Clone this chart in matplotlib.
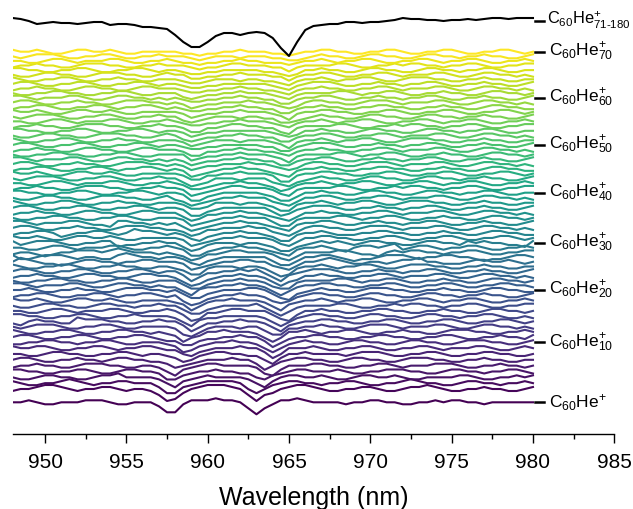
import numpy as np
import matplotlib.pyplot as plt

plt.rcParams['font.family'] = ['Liberation Sans', 'DejaVu Sans']
plt.rcParams['mathtext.fontset'] = 'custom'
plt.rcParams['mathtext.rm'] = 'Liberation Sans'
plt.rcParams['mathtext.it'] = 'Liberation Sans:italic'

# wavelength grid of the spectra (nm)
wavelength = np.arange(948.0, 980.01, 0.5)

# C60He+ (n = 71-180), absorption depth
black_depth = [18, 19, 21, 24, 23, 22, 23, 23, 24, 23, 22, 22, 25, 24, 24, 25,
               27, 27, 28, 29, 35, 42, 47, 47, 42, 36, 33, 33, 35, 33, 32, 33,
               38, 48, 56, 42, 30, 26, 25, 24, 24, 22, 22, 23, 22, 22, 21, 20,
               18, 19, 19, 20, 20, 21, 20, 20, 19, 20, 19, 18, 18, 19, 18, 18, 18]

# C60He_n+ n = 1..70, absorption depth per grid point (hex digits, 3 = baseline)
spectra = [
    "33234 43332 22344 | 33358 84222 12236 96422 12333 | 34332 23344 33232 23343 33333",
    "43321 12343 32234 | 33469 85321 11236 96532 11234 | 43322 34432 21234 43323 34432",
    "23443 32123 43322 | 33358 85432 22236 86432 23343 | 32234 43321 23344 32233 43323",
    "34432 23344 32213 | 33346 85432 33334 68532 23323 | 44322 33234 43333 22344 33232",
    "22334 43322 34432 | 23347 75433 23344 67543 22333 | 23443 32223 34432 23343 32234",
    "43323 34432 22334 | 43346 85432 23333 47853 33223 | 34433 22343 33222 34433 23343",
    "32234 43323 34322 | 33445 76543 33233 58643 22334 | 43223 34432 22334 43323 34433",
    "33443 22334 43322 | 34334 57643 22334 46853 32333 | 34322 23443 32234 43322 33443",
    "23322 34433 22343 | 32234 46754 33323 35863 33234 | 43322 34433 22343 33223 44323",
    "44332 23343 32234 | 43334 58754 33233 46864 32334 | 43223 34432 23344 32223 34432",
    "32234 43322 34433 | 22345 57754 43323 35864 33223 | 34433 22334 43322 34433 23342",
    "23443 32234 43322 | 33434 58653 32333 46863 32343 | 32234 43323 34432 22334 43323",
    "34322 23443 32234 | 43333 47864 33343 35774 43323 | 34432 22343 33223 44322 33434",
    "45323 34412 22334 | 43323 35864 43323 34685 43322 | 33443 32234 43322 34433 22343",
    "22334 43322 34433 | 23333 46854 43333 34686 43223 | 34432 23344 32233 43322 34434",
    "33443 22343 33223 | 44332 35874 43223 33578 53323 | 34433 22334 43323 34432 23343",
    "34432 23344 32233 | 43323 35775 43333 24686 43333 | 22344 33232 23343 32234 43322",
    "23323 44322 33234 | 43333 45864 33233 34685 43323 | 43322 34433 22343 32234 43323",
    "43322 34433 22343 | 32234 36875 43323 34676 43223 | 34432 23344 32233 43323 34432",
    "33234 43323 34432 | 22334 35775 43332 23578 54323 | 34432 22334 43323 34432 23344",
    "22343 33223 44322 | 33434 46854 43323 34686 43322 | 33443 32234 43322 34433 22334",
    "34433 22334 43322 | 34433 35775 43323 34677 43333 | 22343 32234 43323 34432 23343",
    "43323 34432 23344 | 32233 46875 43323 34686 53323 | 34433 22343 33223 44322 33434",
    "32234 43322 34433 | 22343 35864 43323 24685 43222 | 34433 23343 32234 43323 34432",
    "23443 32234 43323 | 34433 45774 33343 34687 43323 | 43322 34432 22334 43323 34433",
    "31234 45432 23343 | 32233 34765 43322 33567 53321 | 23443 34322 13344 43223 32343",
    "24432 22343 34421 | 23343 34675 43333 33577 53322 | 34544 32223 43322 33454 43223",
    "43345 43322 23212 | 33343 45764 43223 33467 53333 | 22344 53232 23343 32234 43322",
    "33443 22343 33223 | 44332 34775 43323 34567 43323 | 45322 32143 22343 32234 43323",
    "24322 23443 32254 | 43323 35764 33343 34577 54323 | 23432 23344 32233 42323 34452",
    "23323 44322 33234 | 43333 34765 43323 33467 53322 | 33443 32234 43322 34433 22343",
    "43322 35433 22343 | 12234 34675 43323 34577 43323 | 44433 22334 43323 34432 23344",
    "32234 43323 34432 | 22334 45764 43332 33567 53223 | 34432 22343 33223 44322 33434",
    "22343 33223 44522 | 33434 35765 43323 34567 43322 | 34433 23343 32234 43323 34432",
    "34433 22334 43322 | 34433 34765 43323 33577 43333 | 22343 32234 43323 34432 23343",
    "43323 34432 23344 | 32233 35764 43323 34567 53323 | 34433 22343 33223 44322 33434",
    "32234 43322 34433 | 22343 34775 43333 33576 43222 | 34433 23343 32234 43323 34432",
    "23443 32234 43323 | 34433 34665 33343 34577 43323 | 43322 34432 22334 43323 34433",
    "34432 23344 32223 | 34432 45765 43323 33567 53322 | 34433 22343 33223 44322 33434",
    "22334 43322 34433 | 22343 34775 43333 34577 53323 | 34432 23344 32233 43322 34433",
    "43323 34432 22334 | 43323 34765 43223 33467 43333 | 22344 33232 23343 32234 43322",
    "33443 22343 33223 | 44332 34665 43323 34576 43323 | 43322 34433 22343 32234 43323",
    "34322 23443 32234 | 43323 35765 33343 33567 54323 | 34432 23344 32233 43323 34432",
    "23323 44322 33234 | 43333 34664 43323 33477 43322 | 33443 32234 43322 34433 22343",
    "43322 34433 22343 | 32234 34765 43323 34567 43323 | 34433 22334 43323 34432 23344",
    "32234 43323 34432 | 22334 34654 43332 33456 53223 | 34432 22343 33223 44322 33434",
    "22343 33223 44322 | 33434 34654 43323 34466 43322 | 34433 23343 32234 43323 34432",
    "34433 22334 43322 | 34433 33654 43323 33457 43333 | 22343 32234 43323 34432 23343",
    "43323 34432 23344 | 32233 34664 43323 34456 43323 | 34433 22343 33223 44322 33434",
    "32234 43322 34433 | 22343 34554 43333 34466 43222 | 34433 23343 32234 43323 34432",
    "23443 32234 43323 | 34433 34654 33343 33457 43323 | 43322 34432 22334 43323 34433",
    "34432 23344 32223 | 34432 35654 43323 34466 43322 | 34433 22343 33223 44322 33434",
    "22334 43322 34433 | 22343 34654 43333 33456 53323 | 34432 23344 32233 43322 34433",
    "43323 34432 22334 | 43323 34664 43223 34467 43333 | 22344 33232 23343 32234 43322",
    "33443 22343 33223 | 44332 34554 43323 33456 43323 | 43322 34433 22343 32234 43323",
    "34322 23443 32234 | 43323 35654 33343 34466 54323 | 34432 23344 32233 43323 34432",
    "23323 44322 33234 | 43333 34654 43323 33457 43322 | 33443 32234 43322 34433 22343",
    "43322 34433 22343 | 32234 34554 43323 34466 43323 | 34433 22334 43323 34432 23344",
    "32234 43323 34432 | 22334 34654 43332 33456 53223 | 34432 22343 33223 44322 33434",
    "22343 33223 44322 | 33434 34554 43323 34466 43322 | 34433 23343 32234 43323 34432",
    "34433 22334 43322 | 34433 35654 43323 33456 43333 | 22343 32234 43323 34432 23343",
    "43323 34432 23344 | 32233 34554 43323 34456 43323 | 34433 22343 33223 44322 33434",
    "32234 43322 34433 | 22343 34554 43333 33456 43222 | 34433 23343 32234 43323 34432",
    "23443 32234 43323 | 34433 34554 33343 34456 43323 | 43322 34432 22334 43323 34433",
    "34432 23344 32223 | 34432 33554 43323 33446 43322 | 34433 22343 33223 44322 33434",
    "22334 43322 34433 | 22343 34554 43333 34456 53323 | 34432 23344 32233 43322 34433",
    "43323 34432 22334 | 43323 33454 43223 33446 43333 | 22344 33232 23343 32234 43322",
    "33443 22343 33223 | 44332 34454 43323 34445 43323 | 43322 34433 22343 32234 43323",
    "34322 23443 32234 | 43323 33454 33343 33445 54323 | 34432 23344 32233 43323 34432",
    "23323 44322 33234 | 43333 34454 43323 33445 43322 | 33443 32234 43322 34433 22343",
]
depth_unit = 2.0   # one hex step of the strings above

# labelled traces and where they sit in the stack
label_n = [1, 10, 20, 30, 40, 50, 60, 70]
label_text = [r'C$_{60}$He$^{+}$'] + [r'C$_{60}$He$^{+}_{%d}$' % n for n in label_n[1:]]
offset_n = [1, 2, 10, 20, 30, 40, 50, 60, 70]
offset_px = [402.3, 389, 342.3, 290, 243, 192.7, 145, 97.7, 51.7]
black_offset = 20.7

fig = plt.figure(figsize=(6.33, 5.09), dpi=100)
ax = fig.add_axes([12.5 / 633, 75 / 509, (614.3 - 12.5) / 633, 434 / 509])

cmap = plt.get_cmap('viridis')
n_all = np.arange(1, len(spectra) + 1)
base = np.interp(n_all, offset_n, offset_px)

for idx, s in enumerate(spectra):
    digits = s.replace(' ', '').replace('|', '')
    vals = np.array([int(c, 16) for c in digits], dtype=float)
    y = -(base[idx] + (vals - 3) * depth_unit)
    ax.plot(wavelength[:len(y)], y, color=cmap(idx / (len(spectra) - 1)), lw=1.5,
            solid_joinstyle='round')

ax.plot(wavelength, -np.array(black_depth, dtype=float), color='black', lw=1.5)

# right-hand labels with small dash marks
for n, txt in zip(label_n, label_text):
    yy = -np.interp(n, offset_n, offset_px)
    ax.plot([980.15, 980.65], [yy, yy], color='black', lw=1.8, clip_on=False)
    ax.text(981.0, yy, txt, fontsize=12.5, va='center', ha='left')
ax.plot([980.15, 980.65], [-black_offset, -black_offset], color='black', lw=1.8, clip_on=False)
ax.text(980.85, -black_offset, r'C$_{60}$He$^{+}_{\text{71-180}}$', fontsize=11.8,
        va='center', ha='left')

ax.set_xlim(948, 985)
ax.set_ylim(-434, 0)
for side in ['left', 'right', 'top']:
    ax.spines[side].set_visible(False)
ax.spines['bottom'].set_linewidth(1.0)
ax.set_yticks([])
ax.set_xticks(np.arange(950, 986, 5))
ax.set_xticks(np.arange(952.5, 985, 5), minor=True)
ax.tick_params(axis='x', which='major', direction='out', length=6.5, width=1.0,
               labelsize=15, pad=7)
ax.tick_params(axis='x', which='minor', direction='out', length=3.5, width=1.0)
ax.set_xlabel('Wavelength (nm)', fontsize=18, labelpad=10)

fig.savefig('out.png', dpi=100)
